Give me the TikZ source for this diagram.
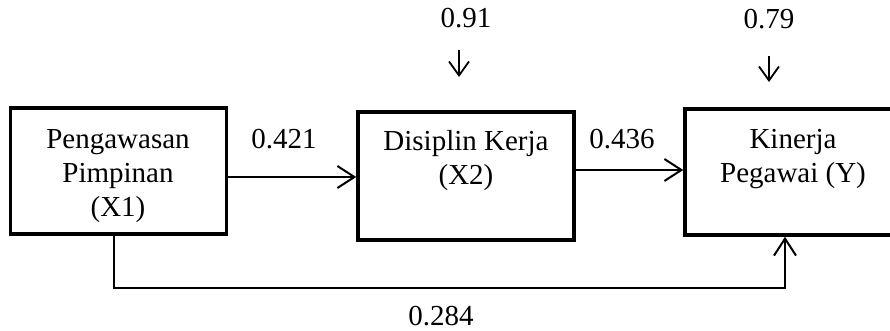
\documentclass[tikz,border=0pt]{standalone}
\usepackage{fontspec}
\setmainfont{Liberation Serif}
\usetikzlibrary{arrows.meta}

\tikzset{
  varbox/.style={draw=black, line width=3.5pt, rectangle, inner sep=0pt,
                 minimum width=216pt, minimum height=126pt},
  boxtext/.style={anchor=north, inner sep=0pt, align=center,
                  font=\fontsize{29pt}{34pt}\selectfont},
  coef/.style={anchor=base, inner sep=0pt, font=\fontsize{29pt}{34pt}\selectfont},
  causal/.style={draw=black, line width=2pt, -{Straight Barb[length=17pt,width=22pt,line width=2pt]}},
  errarrow/.style={draw=black, line width=1.8pt, -{Straight Barb[length=14pt,width=20pt,line width=1.8pt]}}
}

\begin{document}
\begin{tikzpicture}[x=1pt,y=-1pt]
  \useasboundingbox (0,0) rectangle (890,330);

  % variable boxes
  \node[varbox] (b1) at (118.5,171) {};
  \node[varbox, minimum height=128pt] (b2) at (466,176) {};
  \node[varbox] (b3) at (793,172) {};

  % box captions (first baseline = north + strut height)
  \node[boxtext] (t1) at (118,124.2) {\strut Pengawasan\\\strut Pimpinan\\\strut (X1)};
  \node[boxtext] (t2) at (466,126.2) {\strut Disiplin Kerja\\\strut (X2)};
  \node[boxtext] (t3) at (793,124.2) {\strut Kinerja\\\strut Pegawai (Y)};

  % direct paths
  \draw[causal] (b1.east |- 0,177) -- (b2.west |- 0,177);
  \draw[causal] (b2.east |- 0,170) -- (b3.west |- 0,170);
  \coordinate (c1) at (114,288);
  \coordinate (c2) at (785,288);
  \draw[causal] (b1.south -| c1) -- (c1) -- (c2) -- (b3.south -| c2);

  % path coefficients
  \node[coef] (p1) at (284,148) {0.421};
  \node[coef] (p2) at (622,148) {0.436};
  \node[coef] (p3) at (441,325) {0.284};

  % residual terms
  \node[coef] (e1) at (466,27) {0.91};
  \node[coef] (e2) at (769,28) {0.79};
  \coordinate (e1s) at (459,50);
  \coordinate (e1e) at (459,77);
  \coordinate (e2s) at (769,56);
  \coordinate (e2e) at (769,82);
  \draw[errarrow] (e1s) -- (e1e);
  \draw[errarrow] (e2s) -- (e2e);
\end{tikzpicture}
\end{document}
